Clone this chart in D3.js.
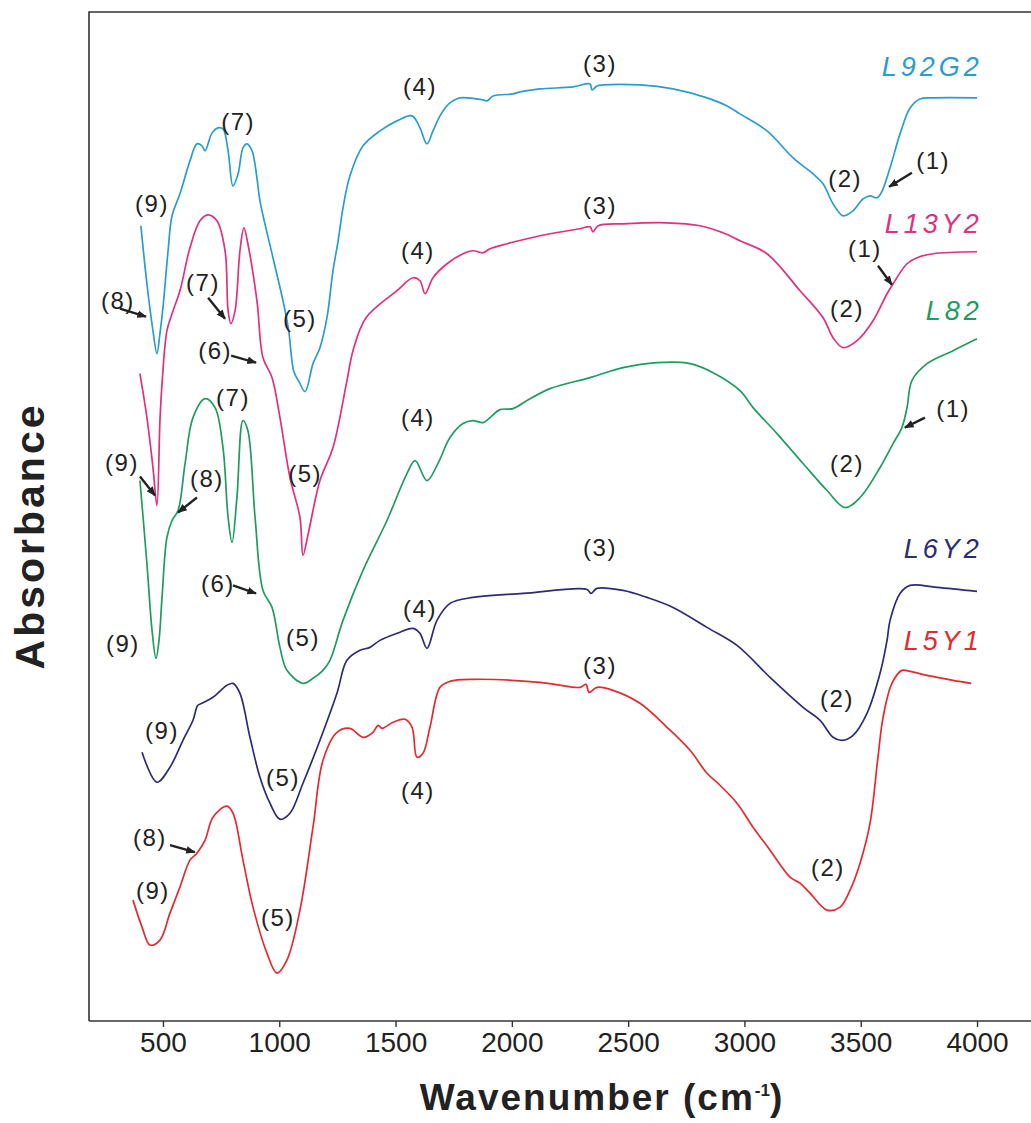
<!DOCTYPE html>
<html>
<head>
<meta charset="utf-8">
<script src="https://cdn.jsdelivr.net/npm/d3@7.9.0/dist/d3.min.js"></script>
<style>
  body { margin: 0; background: #fff; }
  text { font-family: "Liberation Sans", Arial, sans-serif; }
</style>
</head>
<body>
<svg id="ftir" width="1031" height="1123"></svg>
<script>
// wavenumber (cm-1), absorbance (arbitrary, offset stacked)
const seriesNames = ["L92G2", "L13Y2", "L82", "L6Y2", "L5Y1"];
const seriesColors = ["#2b9ccf", "#e0307e", "#1f9c62", "#2c2c74", "#e42a30"];

const L92G2 = [
  [405,79.6],[431,73.8],[457,69.1],[474,66.8],[487,68.8],[500,71.4],[522,77.1],[539,80.6],
  [573,82.8],[616,86.1],[646,87.8],[668,87.6],[681,87.1],[711,88.9],[736,89.4],[758,89.3],
  [780,87.1],[801,83.6],[823,84.8],[844,87.4],[861,87.8],[883,87.1],[904,84.4],[917,82.1],
  [973,76.4],[1016,72.1],[1040,69.2],[1063,65.0],[1085,64.0],[1111,63.0],[1145,65.8],
  [1175,67.4],[1205,70.4],[1231,75.1],[1253,78.1],[1274,81.4],[1304,84.6],[1360,87.6],
  [1433,89.1],[1506,90.1],[1571,90.6],[1605,89.4],[1635,87.8],[1661,89.1],[1691,90.6],
  [1713,91.4],[1734,91.9],[1777,92.4],[1876,92.2],[1893,92.1],[1919,92.6],[2005,92.8],
  [2035,93.0],[2121,93.3],[2263,93.5],[2336,93.8],[2345,93.2],[2366,93.6],[2392,93.7],
  [2551,93.7],[2693,93.3],[2839,92.4],[2925,91.6],[2981,90.8],[3097,89.1],[3209,86.4],
  [3295,84.8],[3338,83.8],[3381,81.8],[3424,80.6],[3467,81.1],[3510,82.3],[3540,82.6],
  [3570,82.4],[3592,83.1],[3626,85.4],[3669,88.8],[3712,91.4],[3755,92.3],[3811,92.4],
  [4000,92.4]
];

const L13Y2 = [
  [401,64.8],[431,60.4],[457,55.4],[474,51.6],[487,60.1],[496,63.8],[517,69.1],[539,70.8],
  [573,73.1],[616,77.4],[659,80.1],[693,80.7],[732,80.1],[767,77.1],[780,71.1],[792,69.8],
  [810,71.1],[831,77.1],[848,79.4],[865,77.8],[904,72.1],[930,66.4],[969,64.4],[1003,60.4],
  [1046,54.4],[1089,50.4],[1102,46.6],[1123,48.6],[1175,54.1],[1231,57.4],[1291,64.1],
  [1317,67.1],[1373,70.4],[1506,73.1],[1575,74.4],[1605,74.1],[1627,72.8],[1661,74.4],
  [1721,75.8],[1790,76.8],[1833,77.1],[1876,76.9],[1906,77.3],[1979,77.8],[2065,78.3],
  [2164,78.8],[2293,79.3],[2336,79.5],[2349,79.0],[2371,79.6],[2478,79.8],[2667,79.9],
  [2809,79.6],[2908,78.9],[2981,78.1],[3097,76.8],[3239,73.1],[3338,70.4],[3381,68.4],
  [3424,67.4],[3484,68.1],[3553,70.1],[3613,72.8],[3639,73.8],[3699,75.8],[3742,76.4],
  [3811,76.8],[4000,77.0]
];

const L82 = [
  [401,54.1],[431,45.8],[453,39.1],[470,36.3],[483,38.1],[496,42.4],[517,48.4],[539,50.1],
  [565,51.1],[595,55.8],[629,60.4],[681,62.3],[724,61.4],[758,57.4],[780,50.4],[797,47.9],
  [818,52.4],[844,60.1],[865,59.1],[896,50.4],[930,43.1],[969,41.4],[1003,37.4],[1033,35.1],
  [1102,33.8],[1145,34.3],[1188,35.1],[1218,36.1],[1274,40.1],[1360,45.1],[1463,50.1],
  [1549,54.8],[1584,56.1],[1635,54.1],[1682,55.8],[1734,58.4],[1790,59.8],[1833,60.1],
  [1876,59.9],[1906,60.4],[1949,61.2],[2005,61.3],[2065,62.1],[2164,63.3],[2336,64.4],
  [2478,65.4],[2624,65.9],[2766,65.8],[2865,64.9],[2981,63.1],[3037,61.4],[3140,58.8],
  [3252,55.8],[3355,53.1],[3432,51.4],[3497,52.4],[3583,55.4],[3639,57.8],[3677,59.4],
  [3699,61.4],[3720,64.1],[3785,65.8],[3897,67.1],[4000,68.3]
];

const L6Y2 = [
  [410,26.9],[474,23.9],[530,25.4],[586,28.1],[629,30.1],[650,31.6],[668,31.8],[715,32.4],
  [775,33.6],[801,33.8],[831,32.8],[874,28.4],[917,24.4],[960,21.8],[1003,20.2],[1046,20.8],
  [1102,23.8],[1175,28.1],[1248,32.8],[1291,36.1],[1347,37.1],[1390,37.4],[1433,38.1],
  [1506,38.8],[1575,39.3],[1605,38.8],[1635,37.3],[1678,40.1],[1734,41.8],[1833,42.4],
  [2048,42.8],[2323,43.2],[2340,42.8],[2366,43.3],[2478,43.1],[2581,42.4],[2693,41.4],
  [2839,39.4],[2968,37.6],[3110,34.4],[3252,31.4],[3325,30.1],[3381,28.4],[3420,28.1],
  [3467,28.6],[3527,30.8],[3583,34.8],[3613,38.1],[3626,40.1],[3669,42.8],[3712,43.6],
  [3828,43.4],[4000,43.0]
];

const L5Y1 = [
  [371,12.1],[410,9.4],[444,7.6],[487,8.1],[530,10.8],[573,13.4],[616,16.1],[646,16.8],
  [681,18.1],[715,20.4],[775,21.5],[801,20.8],[844,16.1],[887,11.4],[947,6.8],[990,4.8],
  [1033,6.1],[1089,11.1],[1145,19.4],[1188,26.1],[1248,28.9],[1304,29.3],[1360,28.4],
  [1403,28.9],[1425,29.6],[1442,29.3],[1489,29.9],[1541,30.2],[1571,29.4],[1592,26.4],
  [1618,26.8],[1648,29.4],[1691,33.4],[1734,34.0],[1833,34.2],[2121,33.9],[2293,33.4],
  [2319,33.7],[2332,32.9],[2366,33.4],[2435,33.1],[2551,31.8],[2667,29.4],[2766,27.1],
  [2839,24.8],[2895,23.6],[2968,21.8],[3037,19.4],[3110,17.1],[3196,14.4],[3239,13.8],
  [3282,12.8],[3355,11.1],[3411,11.4],[3454,13.1],[3497,15.8],[3540,19.8],[3574,26.4],
  [3596,30.4],[3634,33.8],[3677,35.1],[3712,35.0],[3785,34.6],[3897,34.1],[3975,33.8]
];

const seriesData = [L92G2, L13Y2, L82, L6Y2, L5Y1];

// series name labels: [right-end wavenumber, absorbance]
const nameLabelPos = [[4025,95.6],[4025,79.9],[4025,71.1],[4025,47.3],[4025,38.1]];

// band labels: text, wavenumber, absorbance
const bandLabels = [
  ["(9)",453,81.8],["(7)",823,90.1],["(4)",1605,93.6],["(3)",2379,95.9],["(5)",1089,70.3],
  ["(2)",3433,84.3],["(1)",3811,86.1],
  ["(8)",306,72.1],["(7)",672,73.9],["(6)",724,67.1],["(4)",1596,77.1],["(3)",2379,81.6],
  ["(5)",1111,54.8],["(2)",3441,71.3],["(1)",3518,77.3],["(9)",324,55.9],
  ["(8)",689,54.3],["(7)",801,62.4],["(4)",1596,60.4],["(6)",736,43.8],["(5)",1102,38.4],
  ["(9)",328,37.8],["(2)",3441,55.8],["(1)",3897,61.3],
  ["(9)",496,29.1],["(5)",1016,24.4],["(4)",1605,41.3],["(3)",2379,47.4],["(2)",3398,32.3],
  ["(8)",444,18.4],["(9)",457,13.1],["(5)",994,10.4],["(4)",1596,23.1],["(3)",2379,35.6],
  ["(2)",3359,15.4]
];

// arrows: from [wn, abs] to [wn, abs]
const arrows = [
  [[3720,84.9],[3622,83.5]],
  [[315,71.3],[427,70.5]],
  [[694,72.4],[767,70.3]],
  [[793,66.6],[900,65.9]],
  [[3574,75.6],[3634,73.7]],
  [[401,54.5],[466,52.6]],
  [[646,52.4],[565,50.9]],
  [[801,43.6],[900,42.8]],
  [[3776,60.4],[3690,59.4]],
  [[530,17.6],[637,16.9]]
];

const xTicks = [500, 1000, 1500, 2000, 2500, 3000, 3500, 4000];

const svg = d3.select("#ftir");
const frame = { left: 89, top: 12, right: 1045, bottom: 1021 };

const x = d3.scaleLinear().domain([182, 4232]).range([frame.left, 1031]);
const y = d3.scaleLinear().domain([0, 101]).range([frame.bottom, frame.top]);

// frame
svg.append("path")
  .attr("d", `M${frame.right},${frame.top}H${frame.left}V${frame.bottom}`)
  .attr("fill", "none")
  .attr("stroke", "#333")
  .attr("stroke-width", 1.6);

// bottom axis
const xAxis = svg.append("g")
  .attr("transform", `translate(0,${frame.bottom})`)
  .call(d3.axisBottom(x).tickValues(xTicks).tickFormat(d3.format("d"))
    .tickSize(6).tickSizeOuter(0).tickPadding(5));
xAxis.select(".domain").attr("d", `M${frame.left},0H${frame.right}`).attr("stroke", "#333").attr("stroke-width", 1.6);
xAxis.selectAll(".tick line").attr("stroke", "#333").attr("stroke-width", 1.4);
xAxis.selectAll(".tick text")
  .attr("fill", "#222")
  .style("font-size", "28px")
  .style("font-family", "'Liberation Sans', Arial, sans-serif");

// axis titles
const xt = svg.append("text")
  .attr("x", 602)
  .attr("y", 1110)
  .attr("text-anchor", "middle")
  .style("font-size", "37px")
  .style("font-weight", "bold")
  .style("letter-spacing", "2px")
  .attr("fill", "#222");
xt.append("tspan").text("Wavenumber (cm");
xt.append("tspan").text("-1").attr("dy", -14).style("font-size", "17px").style("letter-spacing", "0px");
xt.append("tspan").text(")").attr("dy", 14);

svg.append("text")
  .attr("transform", "rotate(-90)")
  .attr("x", -536)
  .attr("y", 44)
  .attr("text-anchor", "middle")
  .style("font-size", "41px")
  .style("font-weight", "bold")
  .style("letter-spacing", "3px")
  .attr("fill", "#222")
  .text("Absorbance");

// spectra
const line = d3.line()
  .x(d => x(d[0]))
  .y(d => y(d[1]))
  .curve(d3.curveCatmullRom.alpha(0.5));

seriesData.forEach((data, i) => {
  svg.append("path")
    .datum(data)
    .attr("fill", "none")
    .attr("stroke", seriesColors[i])
    .attr("stroke-width", 1.7)
    .attr("d", line);
});

// series names
seriesNames.forEach((name, i) => {
  svg.append("text")
    .attr("x", x(nameLabelPos[i][0]))
    .attr("y", y(nameLabelPos[i][1]))
    .attr("dy", "0.36em")
    .attr("text-anchor", "end")
    .style("font-size", "27px")
    .style("font-style", "italic")
    .style("letter-spacing", "4px")
    .attr("fill", seriesColors[i])
    .text(name);
});

// band labels
svg.selectAll(".band")
  .data(bandLabels)
  .join("text")
  .attr("class", "band")
  .attr("x", d => x(d[1]))
  .attr("y", d => y(d[2]))
  .attr("dy", "0.36em")
  .attr("text-anchor", "middle")
  .style("font-size", "24px")
  .style("letter-spacing", "1.5px")
  .attr("fill", "#222")
  .text(d => d[0]);

// arrows
svg.append("defs").append("marker")
  .attr("id", "head")
  .attr("viewBox", "0 0 10 10")
  .attr("refX", 9).attr("refY", 5)
  .attr("markerWidth", 4).attr("markerHeight", 4)
  .attr("orient", "auto")
  .append("path")
  .attr("d", "M0,1L10,5L0,9Z")
  .attr("fill", "#222");

arrows.forEach(a => {
  svg.append("line")
    .attr("x1", x(a[0][0])).attr("y1", y(a[0][1]))
    .attr("x2", x(a[1][0])).attr("y2", y(a[1][1]))
    .attr("stroke", "#222")
    .attr("stroke-width", 2.4)
    .attr("marker-end", "url(#head)");
});
</script>
</body>
</html>
